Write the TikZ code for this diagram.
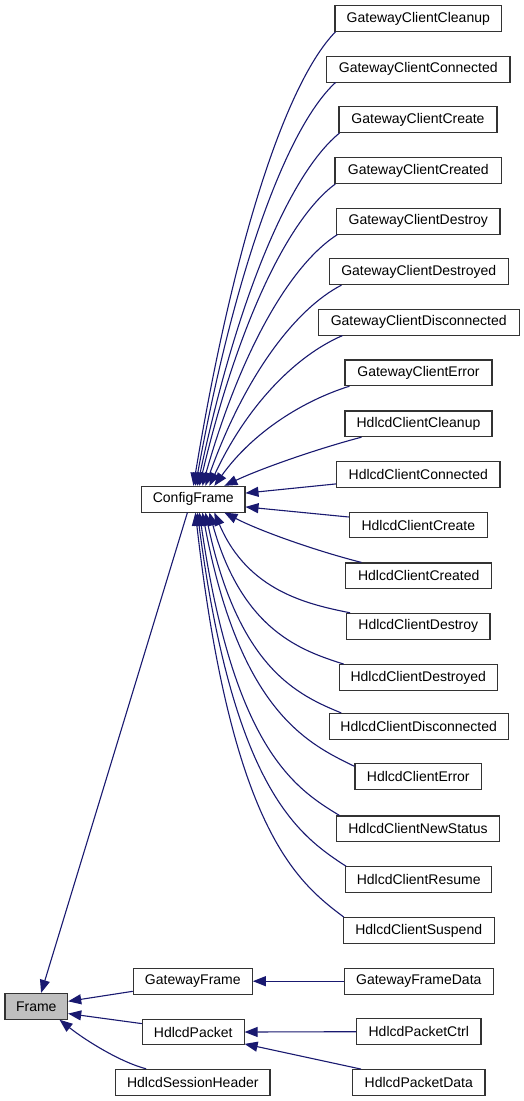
\documentclass[tikz,border=0pt]{standalone}
\usepackage{fontspec}
\setmainfont{Liberation Sans}
\usetikzlibrary{arrows.meta,calc}
\definecolor{edgeblue}{HTML}{191970}
\definecolor{rootgray}{HTML}{BFBFBF}
\begin{document}
\begin{tikzpicture}[x=1pt,y=-1pt,
  box/.style={draw=black!80,line width=1.1pt,fill=white,rectangle,inner sep=0pt,
    minimum height=25.7pt,font=\fontsize{14}{16}\selectfont},
  edge/.style={draw=edgeblue,line width=1.1pt,-{Triangle[length=13pt,width=10pt]}}]
\useasboundingbox[fill=white] (0,0) rectangle (524,1101);
% right column
\node[box,minimum width=166.7pt] (g0) at (418.3,18.5) {GatewayClientCleanup};
\node[box,minimum width=183.3pt] (g1) at (418.3,69.2) {GatewayClientConnected};
\node[box,minimum width=158pt] (g2) at (418,119.7) {GatewayClientCreate};
\node[box,minimum width=166.7pt] (g3) at (418.3,170.5) {GatewayClientCreated};
\node[box,minimum width=163.3pt] (g4) at (418.3,221.2) {GatewayClientDestroy};
\node[box,minimum width=179.3pt] (g5) at (418.7,271.7) {GatewayClientDestroyed};
\node[box,minimum width=200.7pt] (g6) at (418.7,322.2) {GatewayClientDisconnected};
\node[box,minimum width=147pt] (g7) at (418.5,372.8) {GatewayClientError};
\node[box,minimum width=147pt] (h0) at (418.5,423.8) {HdlcdClientCleanup};
\node[box,minimum width=163.3pt] (h1) at (418.3,474.2) {HdlcdClientConnected};
\node[box,minimum width=138pt] (h2) at (418.3,525) {HdlcdClientCreate};
\node[box,minimum width=146pt] (h3) at (418.7,575.8) {HdlcdClientCreated};
\node[box,minimum width=143.3pt] (h4) at (418.3,626.2) {HdlcdClientDestroy};
\node[box,minimum width=158pt] (h5) at (418.3,677.5) {HdlcdClientDestroyed};
\node[box,minimum width=179.3pt] (h6) at (418.7,726.3) {HdlcdClientDisconnected};
\node[box,minimum width=126.7pt] (h7) at (418.3,776.7) {HdlcdClientError};
\node[box,minimum width=162.7pt] (h8) at (418,828.8) {HdlcdClientNewStatus};
\node[box,minimum width=146pt] (h9) at (418.7,879.7) {HdlcdClientResume};
\node[box,minimum width=150.7pt] (h10) at (418.7,930.5) {HdlcdClientSuspend};
\node[box,minimum width=149pt] (gfd) at (418.8,981.2) {GatewayFrameData};
\node[box,minimum width=124.3pt] (hpc) at (418.8,1031.7) {HdlcdPacketCtrl};
\node[box,minimum width=132.3pt] (hpd) at (418.8,1082.5) {HdlcdPacketData};
% middle column
\node[box,minimum width=103.3pt] (cfg) at (193.3,499.2) {ConfigFrame};
\node[box,minimum width=119pt] (gf) at (192.8,981.2) {GatewayFrame};
\node[box,minimum width=101.7pt] (hp) at (193.2,1032) {HdlcdPacket};
\node[box,minimum width=154.3pt] (hs) at (192.8,1082.2) {HdlcdSessionHeader};
% root
\node[box,fill=rootgray,minimum width=62.7pt] (fr) at (36.3,1006.3) {Frame};
% edges to ConfigFrame (upper)
\draw[edge] ($(g0.south west)+(1,0)$) .. controls (286.3,82.2) and (233.8,241.0) .. ($(cfg.north west)+(52.3,0)$);
\draw[edge] ($(g1.south west)+(9.3,0)$) .. controls (287,127.5) and (235.2,268.2) .. ($(cfg.north west)+(54.3,0)$);
\draw[edge] ($(g2.south west)+(1,0)$) .. controls (290.3,173.1) and (237.8,295.5) .. ($(cfg.north west)+(56.3,0)$);
\draw[edge] ($(g3.south west)+(1,0)$) .. controls (288.4,218.6) and (238.1,322.9) .. ($(cfg.north west)+(58.3,0)$);
\draw[edge] ($(g4.south west)+(1.3,0)$) .. controls (290.75,264.3) and (240.8,350.2) .. ($(cfg.north west)+(61.3,0)$);
\draw[edge] ($(g5.south west)+(13,0)$) .. controls (294.4,309.5) and (244.1,377.4) .. ($(cfg.north west)+(64.3,0)$);
\draw[edge] ($(g6.south west)+(24.7,0)$) .. controls (296.45,355.2) and (247.2,404.8) .. ($(cfg.north west)+(68.3,0)$);
\draw[edge] ($(g7.south west)+(5,0)$) .. controls (302.75,400.8) and (252.8,432.2) .. ($(cfg.north west)+(73.3,0)$);
\draw[edge] ($(h0.south west)+(17,0)$) .. controls (320,448) and (262,468) .. ($(cfg.north west)+(83.3,0)$);
\draw[edge] ($(h1.south west)+(0,-3.7)$) -- ($(cfg.north east)+(0,7.3)$);
\draw[edge] ($(h2.north west)+(0,5.4)$) -- ($(cfg.south east)+(0,-5.7)$);
% edges to ConfigFrame (lower)
\draw[edge] ($(h3.north west)+(16.3,0)$) .. controls (320,552) and (262,532) .. ($(cfg.south west)+(83.3,0)$);
\draw[edge] ($(h4.north west)+(4,0)$) .. controls (307.3,604.2) and (247.6,590.9) .. ($(cfg.south west)+(73.3,0)$);
\draw[edge] ($(h5.north west)+(5,0)$) .. controls (301.3,650.6) and (242.2,630.7) .. ($(cfg.south west)+(68.3,0)$);
\draw[edge] ($(h6.north west)+(12.7,0)$) .. controls (298.3,695.2) and (238.6,668.9) .. ($(cfg.south west)+(64.3,0)$);
\draw[edge] ($(h7.north west)+(0,3)$) .. controls (306.4,743.1) and (239.5,710.1) .. ($(cfg.south west)+(61.3,0)$);
\draw[edge] ($(h8.north west)+(3.3,0)$) .. controls (295.2,788.6) and (233.6,749.1) .. ($(cfg.south west)+(58.3,0)$);
\draw[edge] ($(h9.north west)+(1,0)$) .. controls (298,835) and (233.3,788.8) .. ($(cfg.south west)+(56.3,0)$);
\draw[edge] ($(h10.north west)+(1,0)$) .. controls (296.3,881.4) and (231.4,828.6) .. ($(cfg.south west)+(54.3,0)$);
% lower part
\draw[edge] (gfd.west) -- (gf.east);
\draw[edge] (hpc.west) -- (hp.east);
\draw[edge] ($(hpd.north west)+(9,0)$) -- ($(hp.south east)+(0,-1.5)$);
\draw[edge] ($(cfg.south west)+(46.3,0)$) -- ($(fr.north west)+(36.7,0)$);
\draw[edge] ($(gf.south west)+(0,-3.3)$) -- ($(fr.north east)+(0,8.4)$);
\draw[edge] ($(hp.north west)+(0,5)$) -- ($(fr.north east)+(0,20.7)$);
\draw[edge] ($(hs.north west)+(31,0)$) .. controls (120,1062) and (85,1040) .. ($(fr.south east)+(-8.7,0)$);
\end{tikzpicture}
\end{document}
